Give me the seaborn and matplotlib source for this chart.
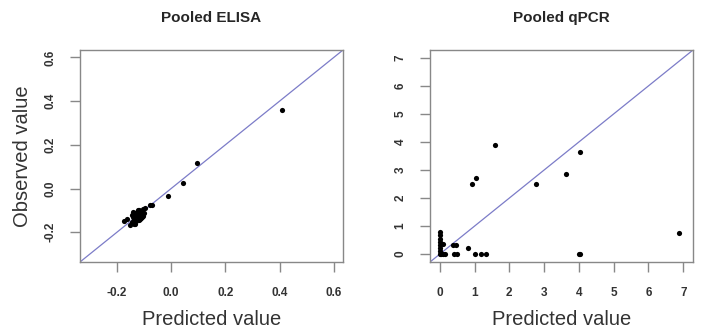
import pandas as pd
import seaborn as sns
import matplotlib.pyplot as plt

# ELISA: predicted vs observed
elisa_pred = [0.41, 0.094, 0.045, -0.012, -0.071, -0.078, -0.175, -0.163, -0.150, -0.136,
              -0.145, -0.140, -0.135, -0.130, -0.128, -0.125, -0.122, -0.120, -0.118, -0.115,
              -0.112, -0.110, -0.108, -0.105, -0.102, -0.100, -0.098, -0.132, -0.127, -0.119,
              -0.142, -0.138, -0.113, -0.106, -0.146, -0.124]
elisa_obs = [0.358, 0.115, 0.026, -0.032, -0.073, -0.075, -0.150, -0.138, -0.165, -0.160,
             -0.120, -0.105, -0.140, -0.110, -0.150, -0.125, -0.100, -0.130, -0.145, -0.115,
             -0.105, -0.135, -0.120, -0.095, -0.125, -0.110, -0.090, -0.160, -0.118, -0.100,
             -0.132, -0.148, -0.140, -0.128, -0.155, -0.108]

# qPCR
qpcr_pred = [1.58, 1.04, 0.92, 2.78, 3.64, 4.03, 4.00, 4.04, 6.88, 0.80, 1.00, 1.20, 1.34,
             0.38, 0.46, 0.41, 0.51, 0.00, 0.00, 0.00, 0.01, 0.00, 0.02, 0.00, 0.01,
             0.08, 0.10, 0.14, 0.03]
qpcr_obs = [3.88, 2.73, 2.50, 2.50, 2.87, 3.66, 0.00, 0.00, 0.77, 0.21, 0.00, 0.00, 0.00,
            0.34, 0.34, 0.00, 0.00, 0.78, 0.67, 0.55, 0.43, 0.31, 0.21, 0.10, 0.00,
            0.37, 0.00, 0.00, 0.00]

titles = ['Pooled ELISA', 'Pooled qPCR']
lims = [(-0.336, 0.634), (-0.28, 7.28)]
xticks = [[-0.2, 0.0, 0.2, 0.4, 0.6], list(range(8))]
tick_fmt = ['{:.1f}', '{:d}']

sns.set_style('white')
plt.rcParams['font.family'] = ['Liberation Sans', 'DejaVu Sans']

fig = plt.figure(figsize=(7.03, 3.31), dpi=100)
W, H = 703, 331
axes = [fig.add_axes([80 / W, (H - 262) / H, 263 / W, 212 / H]),
        fig.add_axes([430 / W, (H - 262) / H, 263 / W, 212 / H])]

data = [pd.DataFrame({'pred': elisa_pred, 'obs': elisa_obs}),
        pd.DataFrame({'pred': qpcr_pred, 'obs': qpcr_obs})]

for i, ax in enumerate(axes):
    sns.scatterplot(x='pred', y='obs', data=data[i], ax=ax, color='black',
                    s=14, linewidth=0, zorder=3)
    ax.axline((0, 0), slope=1, color='#7c7cc8', linewidth=0.9, zorder=2)
    ax.set_xlim(lims[i])
    ax.set_ylim(lims[i])
    ax.set_xticks(xticks[i])
    ax.set_yticks(xticks[i])
    ax.set_xticklabels([tick_fmt[i].format(t) for t in xticks[i]], fontsize=8.5,
                       color='#333333', fontweight='bold')
    ax.set_yticklabels([tick_fmt[i].format(t) for t in xticks[i]], fontsize=8.5,
                       color='#333333', fontweight='bold', rotation=90, va='center')
    ax.tick_params(axis='x', length=7, width=1, color='#888888', pad=11, bottom=True)
    ax.tick_params(axis='y', length=7, width=1, color='#888888', pad=10, left=True)
    for sp in ax.spines.values():
        sp.set_color('#888888')
        sp.set_linewidth(1)
    ax.set_title(titles[i], fontsize=11, fontweight='bold', pad=20)
    ax.set_xlabel('Predicted value', fontsize=14.5, color='#333333', labelpad=8)
    ax.set_ylabel('Observed value' if i == 0 else '', fontsize=14.5, color='#333333', labelpad=9)

plt.savefig('out.png', dpi=100)
